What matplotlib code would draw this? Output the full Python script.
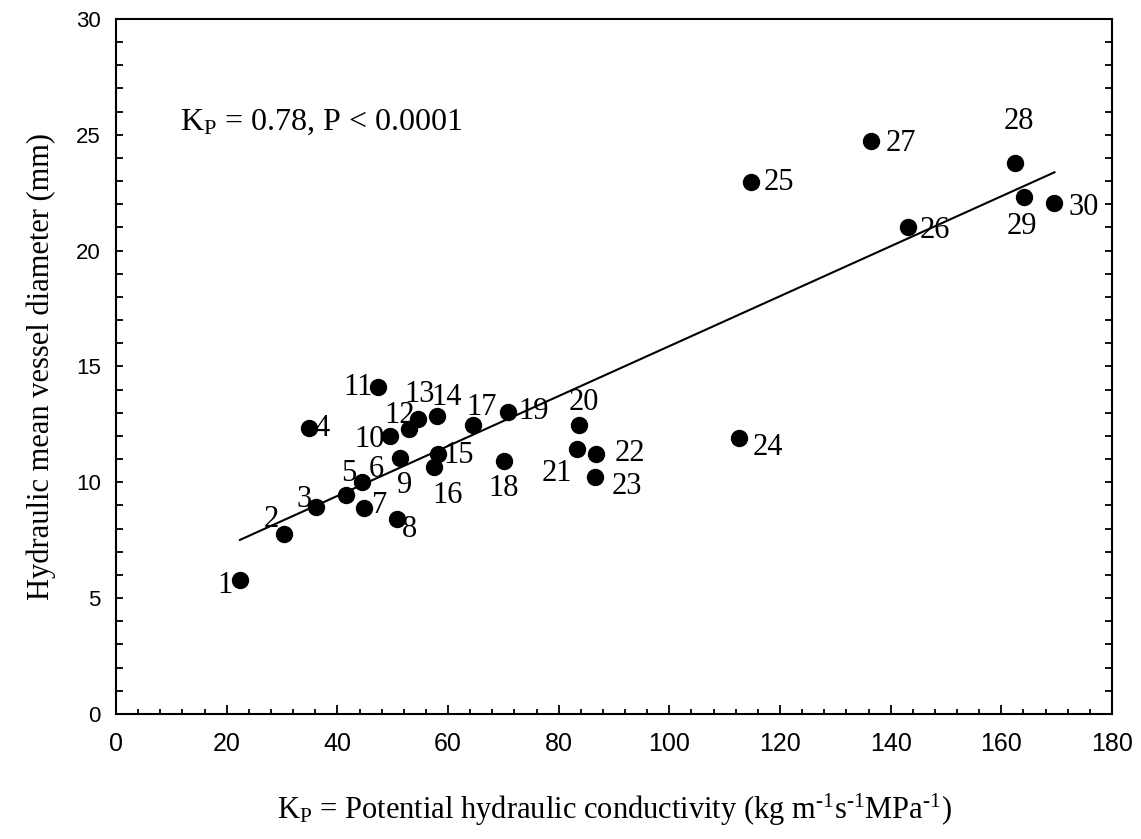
import numpy as np
import matplotlib
matplotlib.use("Agg")
import matplotlib.pyplot as plt

plt.rcParams["mathtext.fontset"] = "custom"
plt.rcParams["mathtext.rm"] = "Liberation Serif"
plt.rcParams["mathtext.it"] = "Liberation Serif:italic"

# Species number, potential hydraulic conductivity and mean vessel diameter
species = [str(i) for i in range(1, 31)]
kp = [22.4, 30.4, 36.1, 34.8, 41.5, 44.4, 44.8, 50.7, 51.3, 49.5,
      47.4, 53.0, 54.5, 58.0, 58.1, 57.5, 64.5, 70.2, 70.9, 83.6,
      83.3, 86.8, 86.6, 112.6, 114.8, 143.1, 136.4, 162.4, 164.1, 169.6]
diam = [5.78, 7.77, 8.95, 12.33, 9.45, 10.03, 8.88, 8.40, 11.04, 12.00,
        14.10, 12.29, 12.73, 12.86, 11.22, 10.67, 12.47, 10.93, 13.05, 12.47,
        11.42, 11.22, 10.24, 11.93, 22.95, 21.03, 24.73, 23.79, 22.33, 22.07]

# label placement around each dot (pixels: right, up)
label_offsets = [(-15, -5), (-13, 14), (-12, 7), (13, 0), (3, 22), (15, 12),
                 (16, 3), (13, -10), (5, -27), (-20, -4), (-20, 0), (-10, 14),
                 (2, 25), (10, 19), (21, -1), (13, -29), (9, 18), (-1, -28),
                 (25, 0), (5, 23), (-20, -24), (34, 1), (32, -10), (29, -10),
                 (28, 0), (27, -4), (30, -2), (4, 41), (-2, -30), (29, -5)]

x = np.array(kp)
y = np.array(diam)

fig = plt.figure(figsize=(11.41, 8.39), dpi=100)
ax = fig.add_axes([0.1017, 0.149, 0.8729, 0.8284])

ax.plot(x, y, "o", color="black", ms=11.5, zorder=3)

# least-squares regression line over the data range
slope, intercept = np.polyfit(x, y, 1)
xf = np.array([x.min(), x.max()])
ax.plot(xf, slope * xf + intercept, color="black", lw=1.5, zorder=2)

for name, xi, yi, off in zip(species, x, y, label_offsets):
    ax.annotate(name, (xi, yi), xytext=off, textcoords="offset pixels",
                ha="center", va="center", fontsize=22,
                family="Liberation Serif", zorder=4)

ax.text(11.6, 25.2, r"$\mathrm{K_P}$ = 0.78, P < 0.0001", fontsize=23,
        family="Liberation Serif", ha="left", va="baseline")

ax.set_xlim(0, 180)
ax.set_ylim(0, 30)
ax.set_xticks(np.arange(0, 181, 20))
ax.set_xticks(np.arange(0, 181, 4), minor=True)
ax.set_yticks(np.arange(0, 31, 5))
ax.set_yticks(np.arange(0, 31, 1), minor=True)

ax.tick_params(axis="x", which="both", direction="in", top=False, bottom=True,
               width=1.3, labelsize=18, pad=13)
ax.tick_params(axis="x", which="major", length=6.5)
ax.tick_params(axis="x", which="minor", length=3.6)
ax.tick_params(axis="y", which="both", direction="in", left=True, right=True,
               width=1.3, labelsize=16, pad=11, length=5)
for lbl in ax.get_xticklabels() + ax.get_yticklabels():
    lbl.set_family("Liberation Sans")

for s in ax.spines.values():
    s.set_linewidth(1.5)

ax.set_xlabel(r"$\mathrm{K_P}$ = Potential hydraulic conductivity (kg m$^{\text{-1}}$s$^{\text{-1}}$MPa$^{\text{-1}}$)",
              fontsize=22, family="Liberation Serif", labelpad=26)
ax.set_ylabel("Hydraulic mean vessel diameter (mm)", fontsize=22,
              family="Liberation Serif", labelpad=14)

fig.savefig("out.png", dpi=100)
